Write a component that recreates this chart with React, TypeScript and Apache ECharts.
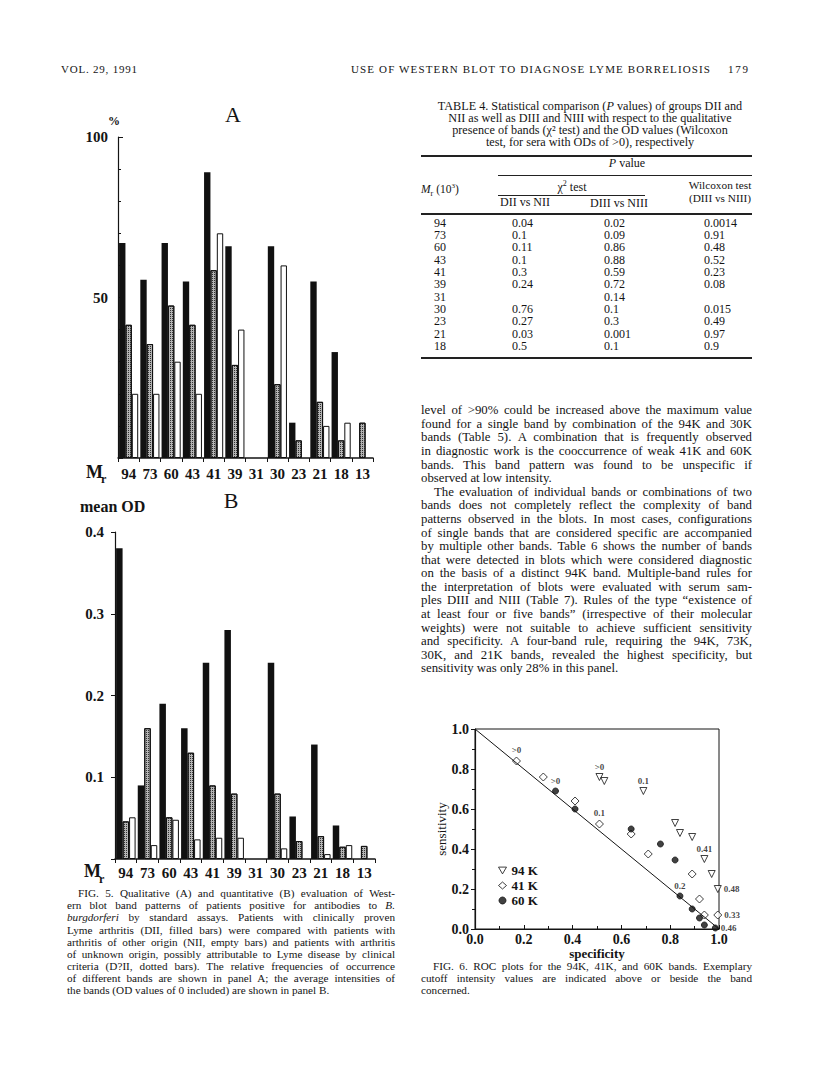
import React, { useEffect, useLayoutEffect, useRef } from "react";
import * as echarts from "echarts";

// ---------- data ----------
const bands = ["94", "73", "60", "43", "41", "39", "31", "30", "23", "21", "18", "13"];
// Panel A: relative frequency (%)
const freqDII = [67, 55.5, 67, 55, 89, 66, null, 66, 11, 55, 33, null];
const freqDqII = [41.5, 35.5, 47.5, 41.5, 58.5, 29, null, 23, 5.5, 17.5, 5.5, 11];
const freqNII = [20, 20, 30, 20, 70, 40, null, 60, null, 10, 11, null];
// Panel B: mean OD
const odDII = [0.38, 0.09, 0.19, 0.16, 0.24, 0.28, null, 0.24, 0.052, 0.14, 0.041, null];
const odDqII = [0.046, 0.16, 0.051, 0.13, 0.09, 0.08, null, 0.08, 0.022, 0.028, 0.015, 0.016];
const odNII = [0.051, 0.017, 0.048, 0.024, 0.026, 0.026, null, 0.013, null, 0.006, 0.017, null];
const yTicksA = [0, 50, 100];
const yTicksB = [0, 0.1, 0.2, 0.3, 0.4];

// Fig 6 ROC: [specificity, sensitivity]
const roc94 = [[0.51, 0.76], [0.53, 0.74], [0.69, 0.69], [0.82, 0.53], [0.84, 0.48], [0.89, 0.46], [0.94, 0.35], [0.97, 0.275], [0.995, 0.2]];
const roc94Labels = [">0", "", "0.1", "", "", "", "0.41", "", "0.48"];
const roc41 = [[0.17, 0.84], [0.28, 0.76], [0.41, 0.64], [0.51, 0.525], [0.64, 0.475], [0.71, 0.375], [0.89, 0.275], [0.92, 0.15], [0.94, 0.07], [0.995, 0.07]];
const roc41Labels = [">0", "", "", "0.1", "", "", "", "", "", "0.33"];
const roc60 = [[0.33, 0.69], [0.41, 0.6], [0.64, 0.5], [0.76, 0.425], [0.82, 0.345], [0.84, 0.165], [0.89, 0.1], [0.92, 0.055], [0.94, 0.02], [0.985, 0.005]];
const roc60Labels = [">0", "", "", "", "", "0.2", "", "", "", "0.46"];
const diagonal = [[0, 1], [1, 0]];

// Table 4
const tabMr = ["94", "73", "60", "43", "41", "39", "31", "30", "23", "21", "18"];
const tabDIIvsNII = ["0.04", "0.1", "0.11", "0.1", "0.3", "0.24", "", "0.76", "0.27", "0.03", "0.5"];
const tabDIIIvsNIII = ["0.02", "0.09", "0.86", "0.88", "0.59", "0.72", "0.14", "0.1", "0.3", "0.001", "0.1"];
const tabWilcoxon = ["0.0014", "0.91", "0.48", "0.52", "0.23", "0.08", "", "0.015", "0.49", "0.97", "0.9"];

const tableTitle = [
  "TABLE 4. Statistical comparison (_P_ values) of groups DII and",
  "NII as well as DIII and NIII with respect to the qualitative",
  "presence of bands (χ\u00b2 test) and the OD values (Wilcoxon",
  "test, for sera with ODs of >0), respectively",
];

const fig5Caption = [
  "FIG. 5. Qualitative (A) and quantitative (B) evaluation of West-",
  "ern blot band patterns of patients positive for antibodies to _B._",
  "_burgdorferi_ by standard assays. Patients with clinically proven",
  "Lyme arthritis (DII, filled bars) were compared with patients with",
  "arthritis of other origin (NII, empty bars) and patients with arthritis",
  "of unknown origin, possibly attributable to Lyme disease by clinical",
  "criteria (D?II, dotted bars). The relative frequencies of occurrence",
  "of different bands are shown in panel A; the average intensities of",
  "the bands (OD values of 0 included) are shown in panel B.",
];

const bodyText = [
  "level of >90% could be increased above the maximum value",
  "found for a single band by combination of the 94K and 30K",
  "bands (Table 5). A combination that is frequently observed",
  "in diagnostic work is the cooccurrence of weak 41K and 60K",
  "bands. This band pattern was found to be unspecific if",
  "observed at low intensity.",
  "The evaluation of individual bands or combinations of two",
  "bands does not completely reflect the complexity of band",
  "patterns observed in the blots. In most cases, configurations",
  "of single bands that are considered specific are accompanied",
  "by multiple other bands. Table 6 shows the number of bands",
  "that were detected in blots which were considered diagnostic",
  "on the basis of a distinct 94K band. Multiple-band rules for",
  "the interpretation of blots were evaluated with serum sam-",
  "ples DIII and NIII (Table 7). Rules of the type \u201cexistence of",
  "at least four or five bands\u201d (irrespective of their molecular",
  "weights) were not suitable to achieve sufficient sensitivity",
  "and specificity. A four-band rule, requiring the 94K, 73K,",
  "30K, and 21K bands, revealed the highest specificity, but",
  "sensitivity was only 28% in this panel.",
];

const fig6Caption = [
  "FIG. 6. ROC plots for the 94K, 41K, and 60K bands. Exemplary",
  "cutoff intensity values are indicated above or beside the band",
  "concerned.",
];

// ---------- helpers ----------
const FONT = '"Liberation Serif", "DejaVu Serif", serif';
const INK = "#141414";

function parseItalic(s: string) {
  return s.split("_").map((p, i) => (i % 2 ? <i key={i}>{p}</i> : <React.Fragment key={i}>{p}</React.Fragment>));
}

function TextLine(props: any) {
  const { x = 0, y, w, size, mode = "justify", cx, bold = false, children } = props;
  const ref = useRef<HTMLSpanElement>(null);
  useLayoutEffect(() => {
    const el = ref.current;
    if (!el) return;
    const nat = el.getBoundingClientRect().width;
    if (mode === "center") {
      el.style.left = cx - nat / 2 + "px";
      return;
    }
    if (!w) return;
    if (nat > w) {
      el.style.transform = `scaleX(${w / nat})`;
      return;
    }
    const txt = el.textContent || "";
    if (mode === "justify") {
      const spaces = txt.split(" ").length - 1;
      if (spaces > 0) el.style.wordSpacing = (w - nat) / spaces + "px";
    } else if (mode === "letter") {
      const n = txt.length - 1;
      if (n > 0) el.style.letterSpacing = (w - nat) / n + "px";
    }
  }, []);
  return (
    <span
      ref={ref}
      style={{
        position: "absolute",
        left: x,
        top: y - size * 0.6,
        fontSize: size,
        lineHeight: size + "px",
        whiteSpace: "pre",
        transformOrigin: "0 0",
        fontFamily: FONT,
        fontWeight: bold ? "bold" : "normal",
        color: INK,
      }}
    >
      {children}
    </span>
  );
}

function Rule({ x1, x2, y, h }: any) {
  return <div style={{ position: "absolute", left: x1, top: y - h / 2, width: x2 - x1, height: h, background: "#222" }} />;
}

// ---------- chart ----------
function Charts() {
  const ref = useRef<HTMLDivElement>(null);
  useEffect(() => {
    const chart = echarts.init(ref.current!, null, { renderer: "svg" });
    const axisLbl = { fontFamily: FONT, fontWeight: "bold", color: INK };
    const black = { color: "#111" };
    const dotted = {
      color: "#b4b4b4",
      borderColor: "#111",
      borderWidth: 1,
      decal: { symbol: "rect", symbolSize: 1, color: "#333", dashArrayX: [1, 1], dashArrayY: [1, 1], rotation: 0 },
    };
    const empty = { color: "#fff", borderColor: "#111", borderWidth: 1 };
    const barBase = { type: "bar", barGap: "0%", barCategoryGap: "10%", silent: true };

    const rocSeries = (name: string, pts: number[][], labels: string[], symbol: string, rotate: number, fill: string, size: number) => ({
      type: "scatter",
      name,
      xAxisIndex: 2,
      yAxisIndex: 2,
      symbol,
      symbolRotate: rotate,
      symbolSize: size,
      itemStyle: { color: fill, borderColor: "#111", borderWidth: 1 },
      data: pts.map((p, i) => ({
        value: p,
        label: labels[i]
          ? {
              show: true,
              formatter: labels[i],
              position: p[0] >= 0.98 ? "right" : "top",
              distance: 2,
              fontSize: 9,
              fontWeight: "bold",
              fontFamily: FONT,
              color: "#111",
              textBorderWidth: 0,
              textBorderColor: "transparent",
            }
          : { show: false },
      })),
    });

    const catAxis = (gi: number, margin: number) => ({
      type: "category",
      gridIndex: gi,
      data: bands,
      axisLine: { lineStyle: { color: INK, width: 1.5 } },
      axisTick: { show: true, length: 4, interval: 0, lineStyle: { color: INK } },
      axisLabel: { ...axisLbl, fontSize: 15, interval: 0, margin },
    });

    chart.setOption({
      animation: false,
      grid: [
        { left: 118, top: 137, width: 255, height: 321 },
        { left: 115, top: 532, width: 260, height: 327 },
        { left: 475, top: 729, width: 244, height: 200, show: true, borderColor: INK, borderWidth: 1 },
      ],
      xAxis: [
        catAxis(0, 8),
        catAxis(1, 6),
        {
          type: "value",
          gridIndex: 2,
          min: 0,
          max: 1,
          interval: 0.2,
          axisLine: { lineStyle: { color: INK, width: 1.2 } },
          axisTick: { inside: true, length: 4, lineStyle: { color: INK } },
          minorTick: { show: true, splitNumber: 2, length: 3, lineStyle: { color: INK } },
          splitLine: { show: false },
          axisLabel: { ...axisLbl, fontSize: 14, margin: 3, formatter: (v: number) => v.toFixed(1) },
          name: "specificity",
          nameLocation: "middle",
          nameGap: 15,
          nameTextStyle: { fontFamily: FONT, fontWeight: "bold", fontSize: 13, color: INK },
        },
      ],
      yAxis: [
        {
          type: "value",
          gridIndex: 0,
          min: yTicksA[0],
          max: yTicksA[yTicksA.length - 1],
          interval: 50,
          axisLine: { show: true, lineStyle: { color: INK, width: 1.2 } },
          axisTick: { show: true, inside: true, length: 5, lineStyle: { color: INK } },
          minorTick: { show: true, splitNumber: 5, length: 3, lineStyle: { color: INK } },
          splitLine: { show: false },
          axisLabel: { ...axisLbl, fontSize: 15, margin: 10, formatter: (v: number) => (v === 0 ? "" : String(v)) },
        },
        {
          type: "value",
          gridIndex: 1,
          min: yTicksB[0],
          max: yTicksB[yTicksB.length - 1],
          interval: 0.1,
          axisLine: { show: true, lineStyle: { color: INK, width: 1.2 } },
          axisTick: { show: true, length: 4, lineStyle: { color: INK } },
          splitLine: { show: false },
          axisLabel: { ...axisLbl, fontSize: 15, margin: 11, formatter: (v: number) => (v === 0 ? "" : v.toFixed(1)) },
        },
        {
          type: "value",
          gridIndex: 2,
          min: 0,
          max: 1,
          interval: 0.2,
          axisLine: { show: true, lineStyle: { color: INK, width: 1.2 } },
          axisTick: { show: true, length: 4, lineStyle: { color: INK } },
          minorTick: { show: true, splitNumber: 2, length: 3, lineStyle: { color: INK } },
          splitLine: { show: false },
          axisLabel: { ...axisLbl, fontSize: 14, margin: 6, formatter: (v: number) => v.toFixed(1) },
          name: "sensitivity",
          nameLocation: "middle",
          nameGap: 27,
          nameRotate: 90,
          nameTextStyle: { fontFamily: FONT, fontSize: 13, color: INK },
        },
      ],
      legend: {
        data: [
          { name: "94 K", icon: "path://M0,0L10,0L5,8.5Z", itemStyle: { color: "#fff", borderColor: "#111", borderWidth: 1 } },
          { name: "41 K", icon: "diamond", itemStyle: { color: "#fff", borderColor: "#111", borderWidth: 1 } },
          { name: "60 K", icon: "circle", itemStyle: { color: "#111", borderColor: "#111", borderWidth: 1 } },
        ],
        orient: "vertical",
        left: 498,
        top: 864,
        padding: 0,
        itemGap: 2,
        itemWidth: 8,
        itemHeight: 7,
        selectedMode: false,
        textStyle: { fontFamily: FONT, fontSize: 13, fontWeight: "bold", color: INK, lineHeight: 11 },
      },
      series: [
        { ...barBase, name: "DII A", xAxisIndex: 0, yAxisIndex: 0, data: freqDII, itemStyle: black },
        { ...barBase, name: "D?II A", xAxisIndex: 0, yAxisIndex: 0, data: freqDqII, itemStyle: dotted },
        { ...barBase, name: "NII A", xAxisIndex: 0, yAxisIndex: 0, data: freqNII, itemStyle: empty },
        { ...barBase, name: "DII B", xAxisIndex: 1, yAxisIndex: 1, data: odDII, itemStyle: black },
        { ...barBase, name: "D?II B", xAxisIndex: 1, yAxisIndex: 1, data: odDqII, itemStyle: dotted },
        { ...barBase, name: "NII B", xAxisIndex: 1, yAxisIndex: 1, data: odNII, itemStyle: empty },
        {
          type: "line",
          name: "diag",
          xAxisIndex: 2,
          yAxisIndex: 2,
          data: diagonal,
          symbol: "none",
          silent: true,
          lineStyle: { color: INK, width: 1 },
        },
        rocSeries("94 K", roc94, roc94Labels, "triangle", 180, "#fff", 7),
        rocSeries("41 K", roc41, roc41Labels, "diamond", 0, "#fff", 8),
        rocSeries("60 K", roc60, roc60Labels, "circle", 0, "#111", 6),
      ],
      graphic: [
        { type: "text", x: 233, y: 114, style: { text: "A", font: `22px ${FONT}`, fill: INK, align: "center", verticalAlign: "middle" } },
        { type: "text", x: 114, y: 121, style: { text: "%", font: `bold 12px ${FONT}`, fill: INK, align: "center", verticalAlign: "middle" } },
        { type: "text", x: 86, y: 472, style: { text: "M", font: `bold 18px ${FONT}`, fill: INK, align: "left", verticalAlign: "middle" } },
        { type: "text", x: 101, y: 479, style: { text: "r", font: `bold 12px ${FONT}`, fill: INK, align: "left", verticalAlign: "middle" } },
        { type: "text", x: 231, y: 500, style: { text: "B", font: `22px ${FONT}`, fill: INK, align: "center", verticalAlign: "middle" } },
        { type: "text", x: 80, y: 506, style: { text: "mean OD", font: `bold 16px ${FONT}`, fill: INK, align: "left", verticalAlign: "middle" } },
        { type: "text", x: 84, y: 871, style: { text: "M", font: `bold 18px ${FONT}`, fill: INK, align: "left", verticalAlign: "middle" } },
        { type: "text", x: 99, y: 879, style: { text: "r", font: `bold 12px ${FONT}`, fill: INK, align: "left", verticalAlign: "middle" } },
      ],
    });
    return () => chart.dispose();
  }, []);
  return <div ref={ref} style={{ position: "absolute", left: 0, top: 0, width: 816, height: 1086 }} />;
}

export default function App() {
  const rowY = (i: number) => 224 + i * 12.3;
  return (
    <div style={{ position: "absolute", left: 0, top: 0, width: 816, height: 1086, background: "#fff", overflow: "hidden" }}>
      <Charts />
      {/* running header */}
      <TextLine x={61} y={71} w={76} size={11} mode="letter">VOL. 29, 1991</TextLine>
      <TextLine x={351} y={71} w={359} size={11} mode="letter">USE OF WESTERN BLOT TO DIAGNOSE LYME BORRELIOSIS</TextLine>
      <TextLine x={728} y={71} w={20} size={11} mode="letter">179</TextLine>

      {/* Table 4 */}
      {tableTitle.map((t, i) => (
        <TextLine key={"tt" + i} cx={590} y={107 + i * 12} size={12.2} mode="center">
          {parseItalic(t)}
        </TextLine>
      ))}
      <Rule x1={421} x2={752} y={156} h={1.5} />
      <TextLine cx={627} y={164} size={12} mode="center">
        <i>P</i> value
      </TextLine>
      <Rule x1={498} x2={752} y={175} h={1} />
      <TextLine x={421} y={188} size={11.5} mode="none">
        <i>M</i>
        <sub style={{ fontSize: 8 }}>r</sub> (10<sup style={{ fontSize: 7 }}>3</sup>)
      </TextLine>
      <TextLine cx={572} y={185} size={12} mode="center">
        χ<sup style={{ fontSize: 8 }}>2</sup> test
      </TextLine>
      <Rule x1={498} x2={645} y={195} h={1} />
      <TextLine cx={720} y={187} size={11.3} mode="center">Wilcoxon test</TextLine>
      <TextLine cx={720} y={199.5} size={11.3} mode="center">(DIII vs NIII)</TextLine>
      <TextLine x={500} y={203} size={12} mode="none">DII vs NII</TextLine>
      <TextLine x={590} y={204} size={12} mode="none">DIII vs NIII</TextLine>
      <Rule x1={421} x2={752} y={214} h={1.3} />
      {tabMr.map((m, i) => (
        <React.Fragment key={"r" + i}>
          <TextLine x={434} y={rowY(i)} size={12} mode="none">{m}</TextLine>
          <TextLine x={512} y={rowY(i)} size={12} mode="none">{tabDIIvsNII[i]}</TextLine>
          <TextLine x={604} y={rowY(i)} size={12} mode="none">{tabDIIIvsNIII[i]}</TextLine>
          <TextLine x={704} y={rowY(i)} size={12} mode="none">{tabWilcoxon[i]}</TextLine>
        </React.Fragment>
      ))}
      <Rule x1={421} x2={752} y={358} h={1.5} />

      {/* body text */}
      {bodyText.map((t, i) => {
        const indent = i === 6;
        const last = i === 5 || i === bodyText.length - 1;
        return (
          <TextLine key={"b" + i} x={indent ? 434 : 421} y={412 + i * 13.58} w={indent ? 318 : 331} size={12.8} mode={last ? "left" : "justify"}>
            {t}
          </TextLine>
        );
      })}

      {/* Fig 5 caption */}
      {fig5Caption.map((t, i) => {
        const indent = i === 0;
        const last = i === fig5Caption.length - 1;
        return (
          <TextLine key={"c5" + i} x={indent ? 78 : 67} y={895 + i * 12.1} w={indent ? 317 : 328} size={11.2} mode={last ? "left" : "justify"}>
            {parseItalic(t)}
          </TextLine>
        );
      })}

      {/* Fig 6 caption */}
      {fig6Caption.map((t, i) => {
        const indent = i === 0;
        const last = i === fig6Caption.length - 1;
        return (
          <TextLine key={"c6" + i} x={indent ? 433 : 421} y={968 + i * 12} w={indent ? 319 : 331} size={11.2} mode={last ? "left" : "justify"}>
            {t}
          </TextLine>
        );
      })}
    </div>
  );
}
